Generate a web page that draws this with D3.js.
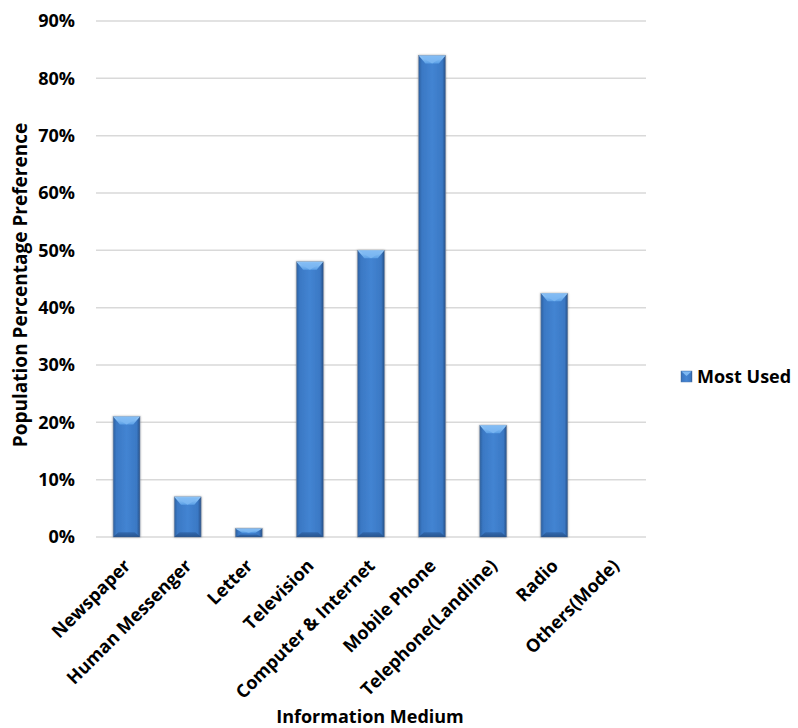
<!DOCTYPE html>
<html><head><meta charset="utf-8">
<script src="https://cdn.jsdelivr.net/npm/d3@7"></script>
<style>body{margin:0;background:#fff}svg{display:block}text{font-family:"Open Sans",sans-serif;font-weight:700;fill:#000}</style>
</head><body><svg id="c" width="798" height="728"></svg>
<script>
const categories = ["Newspaper","Human Messenger","Letter","Television","Computer & Internet","Mobile Phone","Telephone(Landline)","Radio","Others(Mode)"];
const values = [21, 7, 1.5, 48, 50, 84, 19.5, 42.5, 0];
const yTicks = [0,10,20,30,40,50,60,70,80,90];
const seriesName = "Most Used";

const svg = d3.select("#c");
const m = {left:96, right:646, top:21, bottom:537};
const x = d3.scaleBand().domain(categories).range([m.left, m.right]).paddingInner(0.56).paddingOuter(0.28);
const y = d3.scaleLinear().domain([0,90]).range([m.bottom, m.top]);

const defs = svg.append("defs");
const g1 = defs.append("linearGradient").attr("id","barg").attr("x1","0").attr("x2","1").attr("y1","0").attr("y2","0");
[[0,"#2c5f9e"],[0.12,"#3a78c4"],[0.5,"#4384d2"],[0.88,"#3a78c4"],[1,"#264f86"]].forEach(s=>g1.append("stop").attr("offset",s[0]).attr("stop-color",s[1]));
const g2 = defs.append("linearGradient").attr("id","topg").attr("x1","0").attr("x2","0").attr("y1","0").attr("y2","1");
[[0,"#9fd0fb"],[1,"#5a9fe6"]].forEach(s=>g2.append("stop").attr("offset",s[0]).attr("stop-color",s[1]));
const g3 = defs.append("linearGradient").attr("id","botg").attr("x1","0").attr("x2","0").attr("y1","0").attr("y2","1");
[[0,"#2f64a8"],[1,"#214a80"]].forEach(s=>g3.append("stop").attr("offset",s[0]).attr("stop-color",s[1]));
const f = defs.append("filter").attr("id","sh").attr("x","-30%").attr("y","-10%").attr("width","160%").attr("height","130%");
f.append("feDropShadow").attr("dx",0).attr("dy",0).attr("stdDeviation",1.2).attr("flood-color","#000").attr("flood-opacity",0.35);

// gridlines
svg.append("g").selectAll("line").data(yTicks).join("line")
  .attr("x1",m.left).attr("x2",m.right).attr("y1",d=>y(d)).attr("y2",d=>y(d))
  .attr("stroke","#d9d9d9").attr("stroke-width",1.5);

// y labels
svg.append("g").selectAll("text").data(yTicks).join("text")
  .attr("x",75).attr("y",d=>y(d)).attr("dy","0.35em").attr("text-anchor","end")
  .style("font-size","18px").text(d=>d+"%");

// bars
const bars = svg.append("g").selectAll("g").data(categories.map((c,i)=>({c,v:values[i]})).filter(d=>d.v>0)).join("g");
bars.each(function(d){
  const gg = d3.select(this);
  const x0 = x(d.c), w = x.bandwidth(), x1 = x0+w;
  const yt = y(d.v), yb = y(0);
  const h = yb-yt;
  const bv = Math.min(8, h/2);
  gg.append("rect").attr("x",x0).attr("y",yt).attr("width",w).attr("height",h).attr("fill","url(#barg)").attr("filter","url(#sh)").attr("stroke","#7f8ea3").attr("stroke-width",0.6);
  gg.append("path").attr("d",`M${x0},${yt}L${x1},${yt}L${x1-w*0.25},${yt+bv}L${x0+w*0.25},${yt+bv}Z`).attr("fill","url(#topg)");
  gg.append("path").attr("d",`M${x0+1},${yt+0.5}L${x1-1},${yt+0.5}L${(x0+x1)/2},${yt+bv}Z`).attr("fill","#7db8f2").attr("opacity",0.8);
  gg.append("path").attr("d",`M${x0},${yb}L${x1},${yb}L${x1-w*0.2},${yb-bv*0.6}L${x0+w*0.2},${yb-bv*0.6}Z`).attr("fill","url(#botg)").attr("opacity",0.8);
});

// x labels
svg.append("g").selectAll("text").data(categories).join("text")
  .attr("transform",d=>`translate(${x(d)+x.bandwidth()/2+5},${567}) rotate(-45)`)
  .attr("text-anchor","end").style("font-size","18px").text(d=>d);

// axis titles
svg.append("text").attr("transform",`translate(27,${(m.top+m.bottom)/2+6}) rotate(-90)`).attr("text-anchor","middle").style("font-size","19px").text("Population Percentage Preference");
svg.append("text").attr("x",370).attr("y",723).attr("text-anchor","middle").style("font-size","18px").text("Information Medium");

// legend
const lg = svg.append("g").attr("transform","translate(681,371)");
lg.append("rect").attr("width",11).attr("height",11).attr("fill","url(#barg)").attr("stroke","#5a7fb0").attr("stroke-width",0.5);
lg.append("path").attr("d","M0.5,0.5L10.5,0.5L5.5,5Z").attr("fill","#7db8f2");
lg.append("text").attr("x",16).attr("y",12).style("font-size","18px").text(seriesName);
</script></body></html>
